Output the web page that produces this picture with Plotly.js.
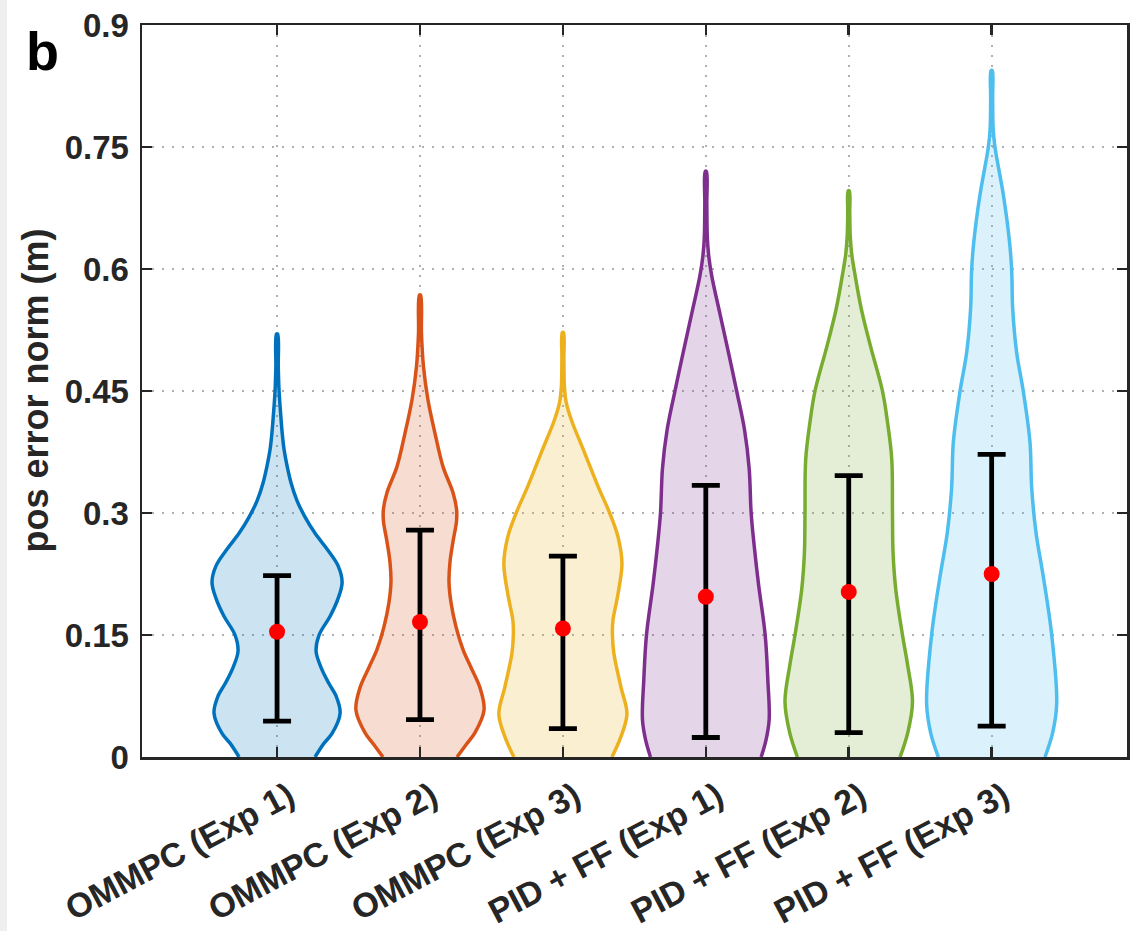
<!DOCTYPE html>
<html>
<head>
<meta charset="utf-8">
<script src="https://cdn.plot.ly/plotly-3.0.1.min.js"></script>
<style>
  html, body { margin: 0; padding: 0; background: #ffffff; }
  #chart { width: 1131px; height: 931px; }
</style>
</head>
<body>
<div id="chart"></div>
<script>
// ---- data ----
const categories = ['OMMPC (Exp 1)', 'OMMPC (Exp 2)', 'OMMPC (Exp 3)',
                    'PID + FF (Exp 1)', 'PID + FF (Exp 2)', 'PID + FF (Exp 3)'];
const meanVals  = [0.154, 0.166, 0.158, 0.197, 0.203, 0.225];
const upperVals = [0.223, 0.279, 0.247, 0.334, 0.346, 0.372];
const lowerVals = [0.044, 0.046, 0.035, 0.024, 0.030, 0.038];

// violin profiles: error level (m) and kernel-density half width (relative units)
const v1Level = [0, 0.008, 0.017, 0.029, 0.054, 0.075, 0.09, 0.11, 0.13, 0.15, 0.173, 0.195, 0.215, 0.235, 0.254, 0.275, 0.295, 0.315, 0.337, 0.358, 0.378, 0.4, 0.42, 0.45, 0.48, 0.52];
const v1Dens  = [38, 42, 47, 55, 63, 59, 52, 44, 39, 42, 53, 61, 65, 61, 51, 38, 28, 20, 14, 10, 7, 5, 3.7, 2, 1.2, 0.6];

const v2Level = [0, 0.015, 0.03, 0.058, 0.085, 0.11, 0.132, 0.16, 0.19, 0.215, 0.24, 0.265, 0.29, 0.305, 0.325, 0.357, 0.398, 0.439, 0.48, 0.52, 0.568];
const v2Dens  = [37, 46, 55, 64, 60, 51, 43, 36, 31, 29, 30, 33, 36.5, 36.5, 33, 23, 15, 8, 3.5, 1.5, 0.6];

const v3Level = [0, 0.025, 0.053, 0.086, 0.127, 0.15, 0.168, 0.2, 0.238, 0.271, 0.3, 0.333, 0.374, 0.415, 0.436, 0.456, 0.49, 0.522];
const v3Dens  = [49, 58, 64, 58, 51, 49.5, 50, 55, 59, 55, 46.7, 35, 21.7, 8.3, 3.3, 1.5, 1, 0.6];

const v4Level = [0, 0.02, 0.046, 0.094, 0.15, 0.212, 0.26, 0.3, 0.355, 0.402, 0.449, 0.497, 0.544, 0.591, 0.615, 0.639, 0.68, 0.72];
const v4Dens  = [55.3, 60, 63.3, 62, 59.3, 52.7, 48.3, 45.3, 43.3, 38.7, 31, 22.7, 14.3, 6, 3, 1.5, 1, 0.6];

const v5Level = [0, 0.03, 0.068, 0.114, 0.15, 0.206, 0.251, 0.3, 0.366, 0.412, 0.45, 0.504, 0.55, 0.6, 0.618, 0.641, 0.67, 0.696];
const v5Dens  = [51.3, 59, 63.7, 58.7, 53.7, 47, 44.3, 43.7, 43, 38.7, 33.7, 22, 12.7, 5.3, 3, 1.5, 1, 0.6];

const v6Level = [0, 0.03, 0.066, 0.15, 0.221, 0.276, 0.331, 0.387, 0.449, 0.497, 0.552, 0.599, 0.635, 0.691, 0.75, 0.773, 0.81, 0.844];
const v6Dens  = [53.3, 61, 65, 60, 51.7, 44.3, 40, 38.3, 31.7, 25, 21, 20, 17.7, 11.7, 3.3, 1.5, 1, 0.6];

const yTickVals = [0, 0.15, 0.3, 0.45, 0.6, 0.75, 0.9];
const yTickText = ['0', '0.15', '0.3', '0.45', '0.6', '0.75', '0.9'];

// ---- styling ----
const lineColors = ['#0072BD', '#D95319', '#EDB120', '#7E2F8E', '#77AC30', '#4DBEEE'];
const fillColors = ['rgba(0,114,189,0.2)', 'rgba(217,83,25,0.2)', 'rgba(237,177,32,0.2)',
                    'rgba(126,47,142,0.2)', 'rgba(119,172,48,0.2)', 'rgba(77,190,238,0.2)'];
const DENS_SCALE = 1 / 142.8;   // relative density -> category-axis units
const levels = [v1Level, v2Level, v3Level, v4Level, v5Level, v6Level];
const dens   = [v1Dens, v2Dens, v3Dens, v4Dens, v5Dens, v6Dens];
const positions = categories.map((c, i) => i + 1);

const traces = [];
levels.forEach((lv, i) => {
  const c = positions[i];
  const xs = [], ys = [];
  for (let k = 0; k < lv.length; k++) { xs.push(c + dens[i][k] * DENS_SCALE); ys.push(lv[k]); }
  for (let k = lv.length - 1; k >= 0; k--) { xs.push(c - dens[i][k] * DENS_SCALE); ys.push(lv[k]); }
  traces.push({
    type: 'scatter', mode: 'lines', x: xs, y: ys,
    fill: 'toself', fillcolor: fillColors[i],
    line: { color: lineColors[i], width: 3.5, shape: 'spline', smoothing: 1 },
    hoverinfo: 'skip', showlegend: false
  });
});

traces.push({
  type: 'scatter', mode: 'markers', x: positions, y: meanVals,
  marker: { color: '#FF0000', size: 16, line: { width: 0 } },
  error_y: {
    type: 'data', symmetric: false,
    array: upperVals.map((u, i) => u - meanVals[i]),
    arrayminus: meanVals.map((m, i) => m - lowerVals[i]),
    color: '#000000', thickness: 4.8, width: 14
  },
  showlegend: false
});

const axisColor = '#262626';
const fontFam = '"Liberation Sans", Arial, Helvetica, sans-serif';
const plotW = 1127 - 142, plotH = 757 - 25;

const layout = {
  width: 1131, height: 931,
  margin: { l: 142, r: 4, t: 25, b: 174 },
  paper_bgcolor: '#ffffff', plot_bgcolor: '#ffffff',
  showlegend: false,
  font: { family: fontFam, color: axisColor, size: 33, weight: 'bold' },
  xaxis: {
    type: 'linear', range: [0.055, 6.947],
    tickmode: 'array', tickvals: positions, ticktext: categories,
    tickangle: -28,
    tickfont: { family: fontFam, size: 34, color: axisColor, weight: 'bold' },
    ticklabelshift: 12, ticklabelstandoff: 4,
    ticks: 'inside', ticklen: 10, tickwidth: 2.5, tickcolor: axisColor,
    showline: true, linecolor: axisColor, linewidth: 2.5, mirror: 'ticks',
    showgrid: true, gridcolor: '#b0b0b0', gridwidth: 1.8, griddash: '2px,8px',
    zeroline: false, fixedrange: true
  },
  yaxis: {
    range: [0, 0.9],
    tickmode: 'array', tickvals: yTickVals, ticktext: yTickText,
    tickfont: { family: fontFam, size: 33, color: axisColor, weight: 'bold' },
    ticks: 'inside', ticklen: 10, tickwidth: 2.5, tickcolor: axisColor,
    ticklabelstandoff: 4,
    showline: true, linecolor: axisColor, linewidth: 2.5, mirror: 'ticks',
    showgrid: true, gridcolor: '#b0b0b0', gridwidth: 1.8, griddash: '2px,8px',
    zeroline: false, fixedrange: true
  },
  shapes: [{
    type: 'rect', xref: 'paper', yref: 'paper', layer: 'below',
    x0: -142 / plotW, x1: (7 - 142) / plotW, y0: -174 / plotH, y1: 1 + 25 / plotH,
    fillcolor: '#efefef', line: { width: 0 }
  }],
  annotations: [{
    text: 'b', xref: 'paper', yref: 'paper', showarrow: false,
    x: (24 - 142) / plotW, xanchor: 'left', y: (757 - 51) / plotH, yanchor: 'middle',
    font: { family: fontFam, size: 54, color: '#000000', weight: 'bold' }
  }, {
    text: 'pos error norm (m)', xref: 'paper', yref: 'paper', showarrow: false,
    textangle: -90, x: (34.5 - 142) / plotW, xanchor: 'center', y: 0.5, yanchor: 'middle',
    font: { family: fontFam, size: 36, color: axisColor, weight: 'bold' }
  }]
};

Plotly.newPlot('chart', traces, layout, { displayModeBar: false, staticPlot: true });
</script>
</body>
</html>
